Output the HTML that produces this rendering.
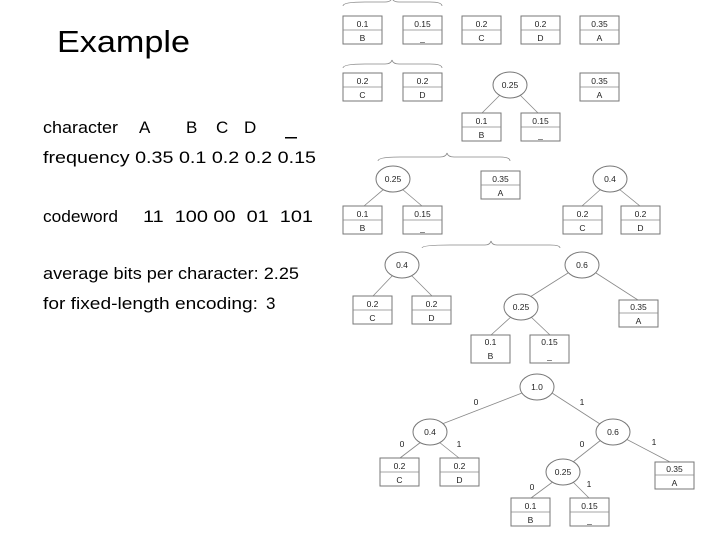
<!DOCTYPE html>
<html><head><meta charset="utf-8"><style>
html,body{margin:0;padding:0;background:#fff;width:720px;height:540px;overflow:hidden}
svg{position:absolute;left:0;top:0}
.t{font-family:"Liberation Sans",sans-serif;fill:#000}
.s{font-family:"Liberation Sans",sans-serif;font-size:8.5px;fill:#222;text-anchor:middle}
rect,ellipse{fill:#fff;stroke:#777;stroke-width:1}
line,path{stroke:#888;stroke-width:0.8;fill:none}
</style></head><body>
<svg width="720" height="540" viewBox="0 0 720 540">
<text class="t" x="57" y="52" font-size="31" textLength="133" lengthAdjust="spacingAndGlyphs">Example</text>
<g class="t" font-size="17">
<text x="43" y="133" textLength="75" lengthAdjust="spacingAndGlyphs">character</text>
<text x="139" y="133">A</text><text x="186" y="133">B</text><text x="216" y="133">C</text><text x="244" y="133">D</text>
<rect x="285" y="137" width="12" height="1.5" style="fill:#000;stroke:none"/>
<text x="43" y="163" textLength="273" lengthAdjust="spacingAndGlyphs">frequency 0.35 0.1 0.2 0.2 0.15</text>
<text x="43" y="222" textLength="75" lengthAdjust="spacingAndGlyphs">codeword</text>
<text x="143" y="222" textLength="170" lengthAdjust="spacingAndGlyphs" xml:space="preserve">11  100 00  01  101</text>
<text x="43" y="279" textLength="256" lengthAdjust="spacingAndGlyphs">average bits per character: 2.25</text>
<text x="43" y="309" textLength="215" lengthAdjust="spacingAndGlyphs">for fixed-length encoding:</text>
<text x="266" y="309">3</text>
</g>
<!-- braces -->
<path d="M343,6 Q343,2 365,2 L385,2 Q391,2 392,-2 Q393,2 399,2 L430,2 Q442,2 442,6"/>
<path d="M343,68 Q343,64 365,64 L385,64 Q391,64 392,60 Q393,64 399,64 L430,64 Q442,64 442,68"/>
<path d="M378,161 Q378,157 400,157 L440,157 Q446,157 447,153 Q448,157 454,157 L500,157 Q510,157 510,161"/>
<path d="M422,248 Q422,245 450,245 L485,245 Q490,245 491,241 Q492,245 497,245 L550,245 Q560,245 560,248"/>
<!-- row1 -->
<g>
<rect x="343" y="16" width="39" height="28"/><line x1="343" y1="30" x2="382" y2="30"/><text class="s" x="362.5" y="27">0.1</text><text class="s" x="362.5" y="41">B</text>
<rect x="403" y="16" width="39" height="28"/><line x1="403" y1="30" x2="442" y2="30"/><text class="s" x="422.5" y="27">0.15</text><text class="s" x="422.5" y="41">_</text>
<rect x="462" y="16" width="39" height="28"/><line x1="462" y1="30" x2="501" y2="30"/><text class="s" x="481.5" y="27">0.2</text><text class="s" x="481.5" y="41">C</text>
<rect x="521" y="16" width="39" height="28"/><line x1="521" y1="30" x2="560" y2="30"/><text class="s" x="540.5" y="27">0.2</text><text class="s" x="540.5" y="41">D</text>
<rect x="580" y="16" width="39" height="28"/><line x1="580" y1="30" x2="619" y2="30"/><text class="s" x="599.5" y="27">0.35</text><text class="s" x="599.5" y="41">A</text>
</g>
<!-- row2 -->
<g>
<rect x="343" y="73" width="39" height="28"/><line x1="343" y1="87" x2="382" y2="87"/><text class="s" x="362.5" y="84">0.2</text><text class="s" x="362.5" y="98">C</text>
<rect x="403" y="73" width="39" height="28"/><line x1="403" y1="87" x2="442" y2="87"/><text class="s" x="422.5" y="84">0.2</text><text class="s" x="422.5" y="98">D</text>
<rect x="580" y="73" width="39" height="28"/><line x1="580" y1="87" x2="619" y2="87"/><text class="s" x="599.5" y="84">0.35</text><text class="s" x="599.5" y="98">A</text>
<line x1="500" y1="95" x2="482" y2="113"/><line x1="520" y1="95" x2="538" y2="113"/>
<ellipse cx="510" cy="85" rx="17" ry="13"/><text class="s" x="510" y="88">0.25</text>
<rect x="462" y="113" width="39" height="28"/><line x1="462" y1="127" x2="501" y2="127"/><text class="s" x="481.5" y="124">0.1</text><text class="s" x="481.5" y="138">B</text>
<rect x="521" y="113" width="39" height="28"/><line x1="521" y1="127" x2="560" y2="127"/><text class="s" x="540.5" y="124">0.15</text><text class="s" x="540.5" y="138">_</text>
</g>
<!-- row3 -->
<g>
<line x1="384" y1="189" x2="364" y2="206"/><line x1="402" y1="189" x2="422" y2="206"/>
<ellipse cx="393" cy="179" rx="17" ry="13"/><text class="s" x="393" y="182">0.25</text>
<rect x="343" y="206" width="39" height="28"/><line x1="343" y1="220" x2="382" y2="220"/><text class="s" x="362.5" y="217">0.1</text><text class="s" x="362.5" y="231">B</text>
<rect x="403" y="206" width="39" height="28"/><line x1="403" y1="220" x2="442" y2="220"/><text class="s" x="422.5" y="217">0.15</text><text class="s" x="422.5" y="231">_</text>
<rect x="481" y="171" width="39" height="28"/><line x1="481" y1="185" x2="520" y2="185"/><text class="s" x="500.5" y="182">0.35</text><text class="s" x="500.5" y="196">A</text>
<line x1="601" y1="189" x2="582" y2="206"/><line x1="619" y1="189" x2="640" y2="206"/>
<ellipse cx="610" cy="179" rx="17" ry="13"/><text class="s" x="610" y="182">0.4</text>
<rect x="563" y="206" width="39" height="28"/><line x1="563" y1="220" x2="602" y2="220"/><text class="s" x="582.5" y="217">0.2</text><text class="s" x="582.5" y="231">C</text>
<rect x="621" y="206" width="39" height="28"/><line x1="621" y1="220" x2="660" y2="220"/><text class="s" x="640.5" y="217">0.2</text><text class="s" x="640.5" y="231">D</text>
</g>
<!-- row4 -->
<g>
<line x1="393" y1="275" x2="373" y2="296"/><line x1="411" y1="275" x2="432" y2="296"/>
<ellipse cx="402" cy="265" rx="17" ry="13"/><text class="s" x="402" y="268">0.4</text>
<rect x="353" y="296" width="39" height="28"/><line x1="353" y1="310" x2="392" y2="310"/><text class="s" x="372.5" y="307">0.2</text><text class="s" x="372.5" y="321">C</text>
<rect x="412" y="296" width="39" height="28"/><line x1="412" y1="310" x2="451" y2="310"/><text class="s" x="431.5" y="307">0.2</text><text class="s" x="431.5" y="321">D</text>
<line x1="568" y1="273" x2="530" y2="297"/><line x1="596" y1="273" x2="638" y2="300"/>
<ellipse cx="582" cy="265" rx="17" ry="13"/><text class="s" x="582" y="268">0.6</text>
<line x1="512" y1="316" x2="491" y2="335"/><line x1="530" y1="316" x2="550" y2="335"/>
<ellipse cx="521" cy="307" rx="17" ry="13"/><text class="s" x="521" y="310">0.25</text>
<rect x="619" y="300" width="39" height="27"/><line x1="619" y1="313" x2="658" y2="313"/><text class="s" x="638.5" y="310">0.35</text><text class="s" x="638.5" y="324">A</text>
<rect x="471" y="335" width="39" height="28"/><text class="s" x="490.5" y="345">0.1</text><text class="s" x="490.5" y="359">B</text>
<rect x="530" y="335" width="39" height="28"/><text class="s" x="549.5" y="345">0.15</text><text class="s" x="549.5" y="359">_</text>
</g>
<!-- final tree -->
<g>
<line x1="522" y1="393" x2="442" y2="424"/><line x1="552" y1="393" x2="600" y2="424"/>
<ellipse cx="537" cy="387" rx="17" ry="13"/><text class="s" x="537" y="390">1.0</text>
<text class="s" x="476" y="405">0</text><text class="s" x="582" y="405">1</text>
<line x1="421" y1="442" x2="400" y2="458"/><line x1="439" y1="442" x2="459" y2="458"/>
<ellipse cx="430" cy="432" rx="17" ry="13"/><text class="s" x="430" y="435">0.4</text>
<text class="s" x="402" y="447">0</text><text class="s" x="459" y="447">1</text>
<rect x="380" y="458" width="39" height="28"/><line x1="380" y1="472" x2="419" y2="472"/><text class="s" x="399.5" y="469">0.2</text><text class="s" x="399.5" y="483">C</text>
<rect x="440" y="458" width="39" height="28"/><line x1="440" y1="472" x2="479" y2="472"/><text class="s" x="459.5" y="469">0.2</text><text class="s" x="459.5" y="483">D</text>
<line x1="601" y1="440" x2="573" y2="462"/><line x1="626" y1="439" x2="670" y2="462"/>
<ellipse cx="613" cy="432" rx="17" ry="13"/><text class="s" x="613" y="435">0.6</text>
<text class="s" x="582" y="447">0</text><text class="s" x="654" y="445">1</text>
<line x1="554" y1="481" x2="531" y2="498"/><line x1="572" y1="481" x2="589" y2="498"/>
<ellipse cx="563" cy="472" rx="17" ry="13"/><text class="s" x="563" y="475">0.25</text>
<text class="s" x="532" y="490">0</text><text class="s" x="589" y="487">1</text>
<rect x="655" y="462" width="39" height="27"/><line x1="655" y1="475" x2="694" y2="475"/><text class="s" x="674.5" y="472">0.35</text><text class="s" x="674.5" y="486">A</text>
<rect x="511" y="498" width="39" height="28"/><line x1="511" y1="512" x2="550" y2="512"/><text class="s" x="530.5" y="509">0.1</text><text class="s" x="530.5" y="523">B</text>
<rect x="570" y="498" width="39" height="28"/><line x1="570" y1="512" x2="609" y2="512"/><text class="s" x="589.5" y="509">0.15</text><text class="s" x="589.5" y="523">_</text>
</g>
</svg>
</body></html>
